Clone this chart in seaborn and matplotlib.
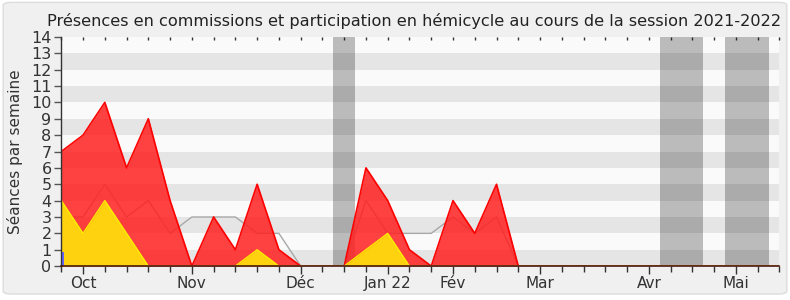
import matplotlib
matplotlib.use("Agg")
import matplotlib.pyplot as plt
from matplotlib.patches import FancyBboxPatch
import seaborn as sns
import pandas as pd
import numpy as np

# ---- data (weekly, session 2021-2022) ----
weeks = list(range(34))
presences = [7, 8, 10, 6, 9, 4, 0, 3, 1, 5, 1, 0, 0, 0, 6, 4, 1, 0, 4, 2, 5, 0,
             0, 0, 0, 0, 0, 0, 0, 0, 0, 0, 0, 0]
participations = [4, 2, 4, 2, 0, 0, 0, 0, 0, 1, 0, 0, 0, 0, 1, 2, 0, 0, 0, 0, 0, 0,
                  0, 0, 0, 0, 0, 0, 0, 0, 0, 0, 0, 0]
mediane = [3, 3, 5, 3, 4, 2, 3, 3, 3, 2, 2, 0, 0, 0, 4, 2, 2, 2, 3, 2, 3, 0,
           0, 0, 0, 0, 0, 0, 0, 0, 0, 0, 0, 0]
questions = [0.85] + [0] * 33
vacances = [(12.5, 13.5), (27.5, 29.5), (30.5, 32.5)]
month_pos = [1, 6, 11, 15, 18, 22, 27, 31]
month_labels = ["Oct", "Nov", "Déc", "Jan 22", "Fév", "Mar", "Avr", "Mai"]
title = "Présences en commissions et participation en hémicycle au cours de la session 2021-2022"
ylabel = "Séances par semaine"

df = pd.DataFrame({"semaine": weeks, "presences": presences,
                   "participations": participations, "mediane": mediane,
                   "questions": questions})

sns.set_theme(style="white")
plt.rcParams["font.family"] = ["DejaVu Sans"]

fig = plt.figure(figsize=(7.9, 3.0), dpi=100, facecolor="white")
panel = FancyBboxPatch((0.004, 0.02), 0.992, 0.972, boxstyle="round,pad=0,rounding_size=0.01",
                       transform=fig.transFigure, facecolor="#f0f0f0", edgecolor="#dcdcdc",
                       linewidth=1, zorder=-10)
fig.patches.append(panel)

ax = fig.add_axes([0.0776, 0.113, 0.909, 0.764])
ax.set_zorder(1)
ax.set_facecolor("#fafafa")

# horizontal stripes
for k in range(0, 14, 2):
    ax.axhspan(k, k + 1, color="#e5e5e5", lw=0, zorder=0)
# vacation bands
for a, b in vacances:
    ax.axvspan(a, b, color="black", alpha=0.25, lw=0, zorder=0.5)

# median line (under red fill)
sns.lineplot(data=df, x="semaine", y="mediane", ax=ax, color="#a8a8a8", lw=1, zorder=1)
# presences
ax.fill_between(df["semaine"], df["presences"], color="#ff2020", alpha=0.85, lw=0, zorder=2)
sns.lineplot(data=df, x="semaine", y="presences", ax=ax, color="red", lw=1.2, zorder=2.1)
# participations
ax.fill_between(df["semaine"], df["participations"], color="#ffd20f", lw=0, zorder=3)
sns.lineplot(data=df, x="semaine", y="participations", ax=ax, color="#ffee00", lw=1.0, zorder=3.1)
# questions orales
ax.bar(df["semaine"], df["questions"], width=0.14, align="edge", color="#6464ff", lw=0, zorder=4)

ax.set_xlim(0, 33)
ax.set_ylim(0, 14)
ax.set_yticks(range(0, 15))
ax.set_xticks(month_pos)
ax.set_xticklabels(month_labels)
ax.set_xticks(range(0, 34), minor=True)
ax.tick_params(axis="x", which="major", direction="out", length=6, width=1, color="#333333",
               labelsize=11, labelcolor="#333333", pad=1, bottom=True)
ax.tick_params(axis="x", which="minor", direction="out", length=4, width=1, color="#333333",
               bottom=True)
ax.tick_params(axis="y", direction="out", length=5, width=1, color="#555555",
               labelsize=11.5, labelcolor="#333333", pad=2, left=True)

for s in ["top", "right"]:
    ax.spines[s].set_visible(False)
ax.spines["left"].set_color("#333333")
ax.spines["bottom"].set_color("#4a1a10")
ax.spines["left"].set_linewidth(1)
ax.spines["bottom"].set_linewidth(1.2)
ax.spines["left"].set_zorder(5)
ax.spines["bottom"].set_zorder(5)

sec = ax.secondary_xaxis("top")
sec.set_xticks(range(0, 34))
sec.tick_params(direction="in", length=2, width=1, color="#333333", labeltop=False)
sec.spines["top"].set_visible(False)

ax.set_xlabel("")
ax.set_ylabel(ylabel, fontsize=11, color="#333333", labelpad=6)
fig.text(0.524, 0.93, title, ha="center", va="center", fontsize=11.6, color="#222222")

fig.savefig("out.png", dpi=100, facecolor="white")
